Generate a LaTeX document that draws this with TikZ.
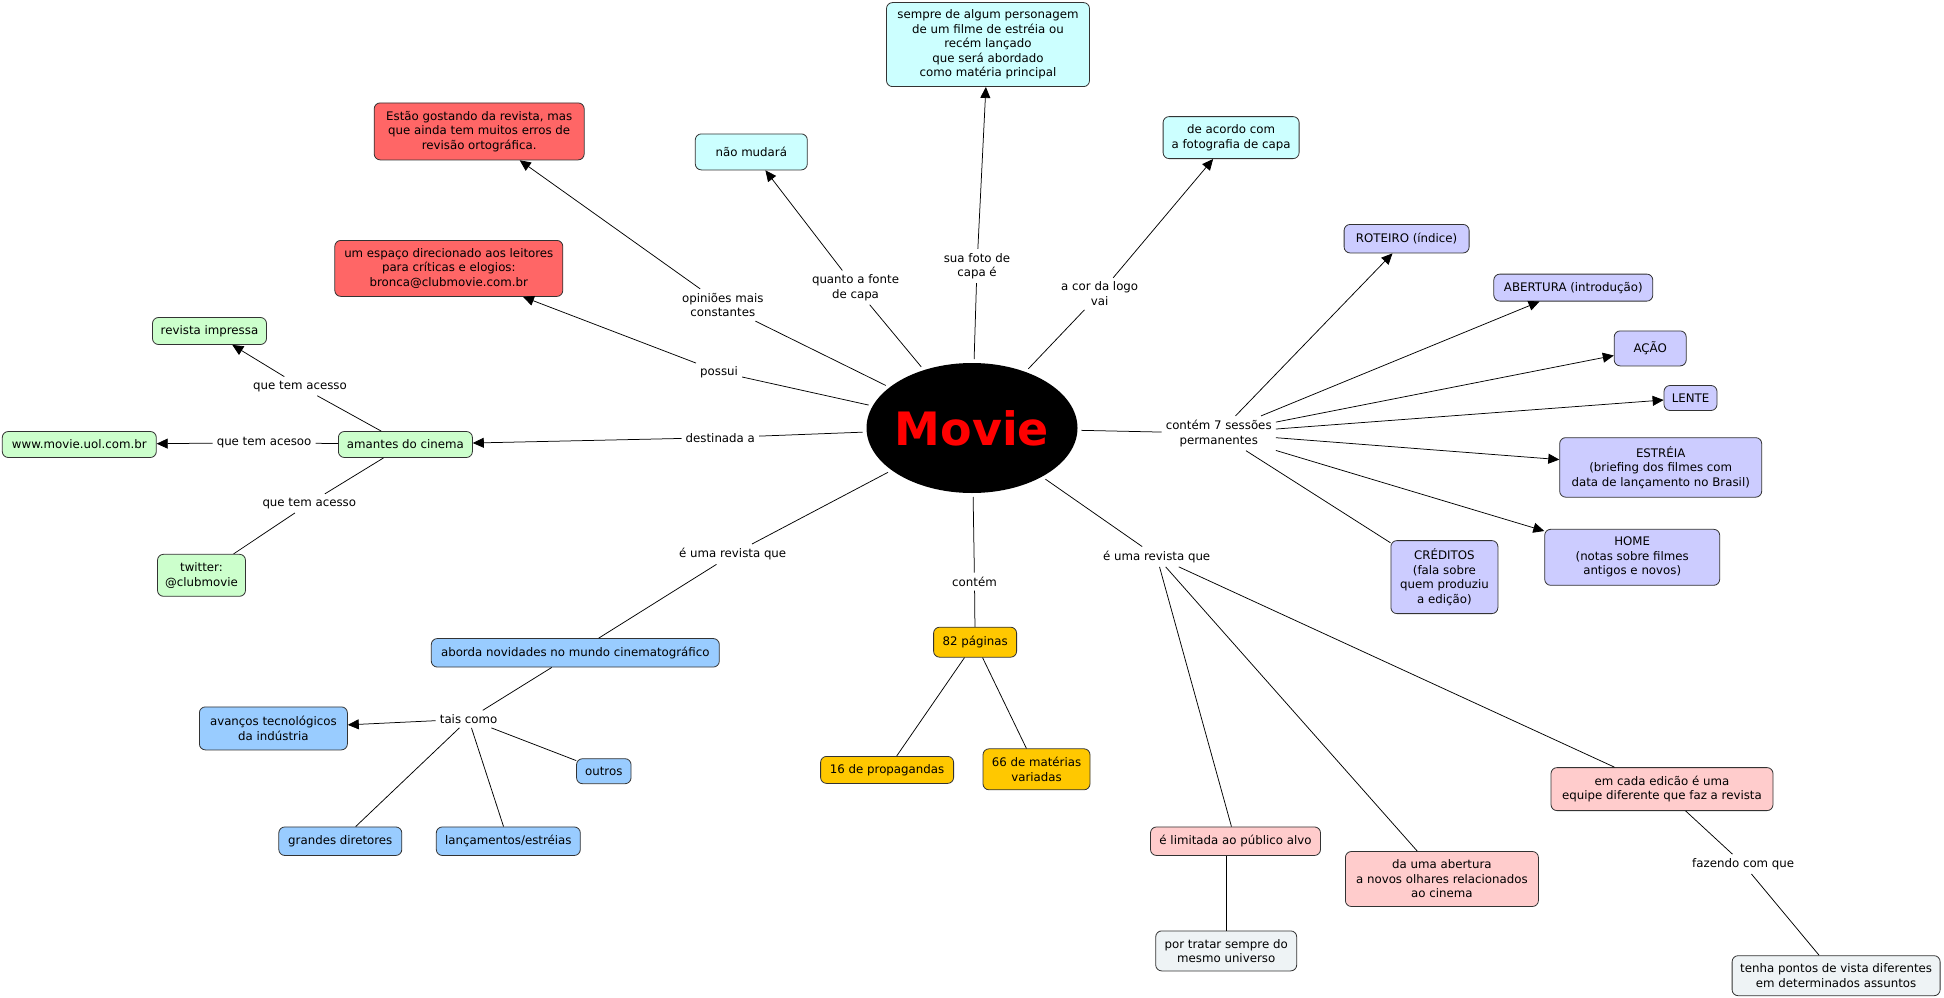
\documentclass[tikz,border=0pt]{standalone}
\usepackage{fontspec}
\setmainfont{DejaVu Sans}
\usetikzlibrary{shapes.geometric,arrows.meta}
\definecolor{cyanfill}{HTML}{CCFFFF}
\definecolor{redfill}{HTML}{FF6666}
\definecolor{greenfill}{HTML}{CCFFCC}
\definecolor{bluefill}{HTML}{99CCFF}
\definecolor{goldfill}{HTML}{FFC800}
\definecolor{lilacfill}{HTML}{CCCCFF}
\definecolor{pinkfill}{HTML}{FFCCCC}
\definecolor{greyfill}{HTML}{EEF3F5}

\begin{document}
\begin{tikzpicture}[x=1pt, y=-1pt,
  every node/.style={font=\fontsize{11.8}{14.5}\selectfont},
  concept/.style={rectangle, rounded corners=6pt, draw=black!80, line width=0.8pt, align=center, inner sep=2pt},
  cyanbox/.style={concept, fill=cyanfill},
  redbox/.style={concept, fill=redfill},
  greenbox/.style={concept, fill=greenfill},
  bluebox/.style={concept, fill=bluefill},
  goldbox/.style={concept, fill=goldfill},
  lilacbox/.style={concept, fill=lilacfill},
  pinkbox/.style={concept, fill=pinkfill},
  greybox/.style={concept, fill=greyfill},
  link/.style={align=center, inner sep=4pt},
  conn/.style={line width=0.75pt},
  arr/.style={conn, -{Triangle[length=11pt, width=10pt]}}
]
  \useasboundingbox (0,0) rectangle (1944,998);

  % central concept
  \node[ellipse, fill=black, text=red, minimum width=211pt, minimum height=130pt, inner sep=0pt, outer sep=4pt,
        font=\fontsize{46}{50}\selectfont\bfseries] (movie) at (972,428) {\makebox[0pt]{Movie}};

  % concepts
  \node[cyanbox, minimum width=203pt, minimum height=84pt] (capa) at (988,44.6)
    {sempre de algum personagem\\ de um filme de estréia ou\\ recém lançado\\ que será abordado\\ como matéria principal};
  \node[cyanbox, minimum width=112pt, minimum height=36pt] (fonte) at (751.3,151.9) {não mudará};
  \node[cyanbox, minimum width=136pt, minimum height=42pt] (logo) at (1231.1,137.6) {de acordo com\\ a fotografia de capa};
  \node[redbox, minimum width=210pt, minimum height=57pt] (opinioes) at (479.2,131.4)
    {Estão gostando da revista, mas\\ que ainda tem muitos erros de\\ revisão ortográfica.};
  \node[redbox, minimum width=228pt, minimum height=56pt] (espaco) at (448.8,268.4)
    {um espaço direcionado aos leitores\\ para críticas e elogios:\\ bronca@clubmovie.com.br};
  \node[greenbox, minimum width=114pt, minimum height=27pt] (impressa) at (209.5,331) {revista impressa};
  \node[greenbox, minimum width=154pt, minimum height=26pt] (site) at (79.3,444.5) {www.movie.uol.com.br};
  \node[greenbox, minimum width=134pt, minimum height=26pt] (amantes) at (405.4,444.5) {amantes do cinema};
  \node[greenbox, minimum width=88pt, minimum height=42pt] (twitter) at (201.5,575.3) {twitter:\\ @clubmovie};
  \node[bluebox, minimum width=288pt, minimum height=28.5pt] (aborda) at (575.3,652.8) {aborda novidades no mundo cinematográfico};
  \node[bluebox, minimum width=148pt, minimum height=43pt] (avancos) at (273.4,728.4) {avanços tecnológicos\\ da indústria};
  \node[bluebox, minimum width=54.5pt, minimum height=25pt] (outros) at (603.8,771.2) {outros};
  \node[bluebox, minimum width=123pt, minimum height=28.5pt] (diretores) at (340.3,841.2) {grandes diretores};
  \node[bluebox, minimum width=144pt, minimum height=28.5pt] (estreias) at (508.3,841.2) {lançamentos/estréias};
  \node[goldbox, minimum width=83pt, minimum height=30pt] (paginas) at (975.1,642.2) {82 páginas};
  \node[goldbox, minimum width=133pt, minimum height=27pt] (propag) at (887.1,769.9) {16 de propagandas};
  \node[goldbox, minimum width=107pt, minimum height=41pt] (materias) at (1036.5,769.3) {66 de matérias\\ variadas};
  \node[lilacbox, minimum width=125pt, minimum height=28.5pt] (roteiro) at (1406.6,238.7) {ROTEIRO (índice)};
  \node[lilacbox, minimum width=159pt, minimum height=27pt] (abert) at (1573.3,287.6) {ABERTURA (introdução)};
  \node[lilacbox, minimum width=72pt, minimum height=35pt] (acao) at (1650.2,348.4) {AÇÃO};
  \node[lilacbox, minimum width=53pt, minimum height=25pt] (lente) at (1690.5,398) {LENTE};
  \node[lilacbox, minimum width=202pt, minimum height=59.5pt] (estreia) at (1660.7,467.4)
    {ESTRÉIA\\ (briefing dos filmes com\\ data de lançamento no Brasil)};
  \node[lilacbox, minimum width=175pt, minimum height=56pt] (home) at (1632.2,557.3) {HOME\\ (notas sobre filmes\\ antigos e novos)};
  \node[lilacbox, minimum width=107pt, minimum height=73pt] (creditos) at (1444.4,577.1)
    {CRÉDITOS\\ (fala sobre\\ quem produziu\\ a edição)};
  \node[pinkbox, minimum width=170pt, minimum height=28.5pt] (limitada) at (1235.5,841.2) {é limitada ao público alvo};
  \node[greybox, minimum width=141pt, minimum height=40pt] (universo) at (1226.2,950.9) {por tratar sempre do\\ mesmo universo};
  \node[pinkbox, minimum width=193pt, minimum height=55pt] (olhares) at (1441.9,879)
    {da uma abertura\\ a novos olhares relacionados\\ ao cinema};
  \node[pinkbox, minimum width=222pt, minimum height=43pt] (equipe) at (1662,789.1)
    {em cada edicão é uma\\ equipe diferente que faz a revista};
  \node[greybox, minimum width=208pt, minimum height=40pt] (pontos) at (1836.1,975.7)
    {tenha pontos de vista diferentes\\ em determinados assuntos};

  % linking phrases
  \node[link] (lfoto) at (977,266) {sua foto de\\ capa é};
  \node[link] (lfonte) at (855.5,287.6) {quanto a fonte\\ de capa};
  \node[link] (llogo) at (1099.7,293.8) {a cor da logo\\ vai};
  \node[link] (lopin) at (722.8,305) {opiniões mais\\ constantes};
  \node[link] (lpossui) at (719.1,371.9) {possui};
  \node[link] (ldest) at (720.3,437.6) {destinada a};
  \node[link] (lacesso) at (300,386.2) {que tem acesso};
  \node[link] (lacesoo) at (264.1,442.6) {que tem acesoo};
  \node[link] (ltwit) at (309.3,503.4) {que tem acesso};
  \node[link] (lrevA) at (732.7,554.2) {é uma revista que};
  \node[link] (ltais) at (468.6,719.1) {tais como};
  \node[link] (lcontem) at (974.5,581.5) {contém};
  \node[link] (lrevB) at (1156.7,556.7) {é uma revista que};
  \node[link] (lsessoes) at (1218.7,433.3) {contém 7 sessões\\ permanentes};
  \node[link] (lfazendo) at (1743.2,864.1) {fazendo com que};

  % connectors
  \draw[conn] (movie) -- (lfoto);   \draw[arr] (lfoto) -- (capa);
  \draw[conn] (movie) -- (lfonte);  \draw[arr] (lfonte) -- (fonte);
  \draw[conn] (movie) -- (llogo);   \draw[arr] (llogo) -- (logo);
  \draw[conn] (movie) -- (lopin);   \draw[arr] (lopin) -- (opinioes);
  \draw[conn] (movie) -- (lpossui); \draw[arr] (lpossui) -- (espaco);
  \draw[conn] (movie) -- (ldest);   \draw[arr] (ldest) -- (amantes);
  \draw[conn] (amantes) -- (lacesso); \draw[arr] (lacesso) -- (impressa);
  \draw[conn] (amantes) -- (lacesoo); \draw[arr] (lacesoo) -- (site);
  \draw[conn] (amantes) -- (ltwit);   \draw[conn] (ltwit) -- (twitter);
  \draw[conn] (movie) -- (lrevA);   \draw[conn] (lrevA) -- (aborda);
  \draw[conn] (aborda) -- (ltais);  \draw[arr] (ltais) -- (avancos);
  \foreach \t in {outros,diretores,estreias}
    \draw[conn] (ltais) -- (\t);
  \draw[conn] (movie) -- (lcontem); \draw[conn] (lcontem) -- (paginas);
  \draw[conn] (paginas) -- (propag);
  \draw[conn] (paginas) -- (materias);
  \draw[conn] (movie) -- (lsessoes);
  \foreach \t in {roteiro,abert,acao,lente,estreia,home}
    \draw[arr] (lsessoes) -- (\t);
  \draw[conn] (lsessoes) -- (creditos);
  \draw[conn] (movie) -- (lrevB);
  \foreach \t in {limitada,olhares,equipe}
    \draw[conn] (lrevB) -- (\t);
  \draw[conn] (universo.north |- limitada.south) -- (universo);
  \draw[conn] (equipe) -- (lfazendo); \draw[conn] (lfazendo) -- (pontos);
\end{tikzpicture}
\end{document}
